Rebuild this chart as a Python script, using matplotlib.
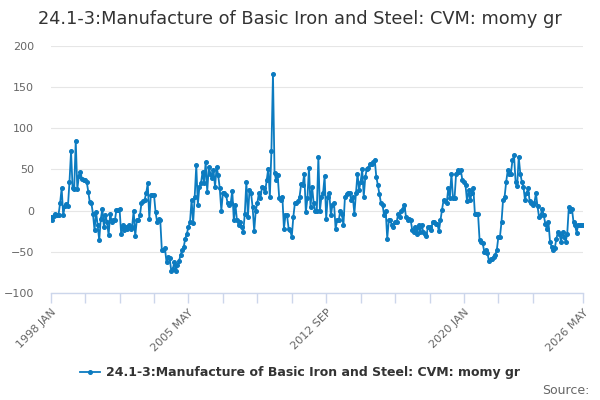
import matplotlib
matplotlib.use("Agg")
import matplotlib.pyplot as plt

# monthly values, 1998 JAN .. 2026 MAY
values = [
    -8, -11, -7, -4, -6, -5, 9, 27, -6, 6, 8, 5,            # 1998
    35, 72, 27, 26, 85, 26, 42, 47, 38, 37, 37, 35,         # 1999
    23, 10, 9, -4, -24, -2, -18, -36, -10, 2, -20, -6,      # 2000
    -14, -30, -4, -14, -12, -12, 1, 1, 2, -28, -18, -24,    # 2001
    -20, -22, -18, -22, -20, 0, -31, -12, -12, -6, 9, 11,   # 2002
    13, 21, 33, -10, 19, 19, 19, -2, -14, -10, -12, -48,    # 2003
    -48, -46, -63, -57, -58, -73, -71, -63, -73, -66, -61, -54,  # 2004
    -48, -44, -34, -28, -20, -14, 13, -15, 17, 55, 7, 29,   # 2005
    33, 47, 33, 59, 23, 53, 45, 39, 49, 29, 53, 43,         # 2006
    27, 0, 21, 21, 19, 9, 7, 9, 24, -12, 7, -12,            # 2007
    -17, -14, -20, -26, -4, 35, -8, 25, 21, 4, -25, 0,      # 2008
    9, 21, 15, 29, 27, 23, 37, 51, 17, 72, 166, 46,         # 2009
    37, 43, 15, 13, 17, -22, -6, -6, -22, -24, -32, -8,     # 2010
    9, 9, 11, 17, 32, 31, 45, -2, 15, 52, 4, 29,            # 2011
    9, 0, 0, 65, 0, 17, 21, 42, -10, 17, 21, -6,            # 2012
    7, 9, -22, -12, -12, 0, -4, -18, 17, 20, 21, 21,        # 2013
    13, 17, -4, 21, 45, 25, 35, 50, 17, 41, 51, 52,         # 2014
    57, 57, 59, 62, 41, 31, 20, 9, 7, -6, 0, -34,           # 2015
    -12, -12, -18, -20, -14, -14, -4, -8, 0, 2, 7, -8,      # 2016
    -12, -10, -12, -24, -26, -20, -28, -18, -26, -17, -26, -28,  # 2017
    -31, -20, -20, -24, -14, -14, -16, -16, -25, -12, 1, 13,     # 2018
    11, 9, 27, 15, 45, 15, 15, 45, 49, 47, 49, 37,          # 2019
    35, 31, 11, 25, 13, 21, 27, -4, -4, -4, -36, -38,       # 2020
    -40, -50, -48, -52, -61, -59, -59, -56, -54, -48, -32, -32,  # 2021
    -14, 13, 17, 35, 49, 45, 45, 61, 67, 35, 30, 65,        # 2022
    45, 35, 29, 13, 21, 27, 11, 9, 7, 9, 21, 5,             # 2023
    -8, -6, 2, -6, -16, -23, -14, -38, -44, -48, -46, -35,  # 2024
    -26, -28, -38, -26, -32, -38, -28, 4, 0, 2, -14, -18,   # 2025
    -27, -17, -18, -17, -17,                                # 2026
]

month_names = ["JAN", "FEB", "MAR", "APR", "MAY", "JUN",
               "JUL", "AUG", "SEP", "OCT", "NOV", "DEC"]
start_year = 1998
tick_months = list(range(0, 330, 22)) + [340]
labeled_months = [0, 88, 176, 264, 340]
yticks = [-100, -50, 0, 50, 100, 150, 200]

title = "24.1-3:Manufacture of Basic Iron and Steel: CVM: momy gr"
line_color = "#0c7bc0"

x = list(range(len(values)))


def month_label(m):
    return "%d %s" % (start_year + m // 12, month_names[m % 12])


fig = plt.figure(figsize=(6, 4), dpi=100)
ax = fig.add_axes([0.0845, 0.268, 0.887, 0.617])

ax.plot(x, values, color=line_color, lw=1.3, marker="o", ms=2.6,
        label=title, solid_joinstyle="round")

ax.set_xlim(0, len(values) - 1)
ax.set_ylim(-100, 200)
ax.set_yticks(yticks)
ax.grid(axis="y", color="#e6e6e6", lw=0.8)
ax.set_axisbelow(True)

ax.set_xticks(tick_months)
ax.set_xticklabels([month_label(m) if m in labeled_months else "" for m in tick_months],
                   rotation=45, ha="right", rotation_mode="anchor")

for s in ["left", "right", "top"]:
    ax.spines[s].set_visible(False)
ax.spines["bottom"].set_color("#ccd6eb")
ax.spines["bottom"].set_linewidth(1)

ax.tick_params(axis="x", colors="#666666", color="#ccd6eb", length=7.5, width=1,
               labelsize=8, pad=3)
ax.tick_params(axis="y", length=0, pad=12, labelsize=8, colors="#666666")

fig.text(0.5, 0.952, title, ha="center", va="center", fontsize=12.8, color="#333333")

leg = fig.legend(loc="center", bbox_to_anchor=(0.5, 0.068), frameon=False,
                 prop={"size": 9, "weight": "bold"}, handlelength=1.6,
                 handletextpad=0.5)
for t in leg.get_texts():
    t.set_color("#333333")

fig.text(0.982, 0.025, "Source:", ha="right", va="center", fontsize=9, color="#666666")

fig.savefig("out.png", dpi=100)
